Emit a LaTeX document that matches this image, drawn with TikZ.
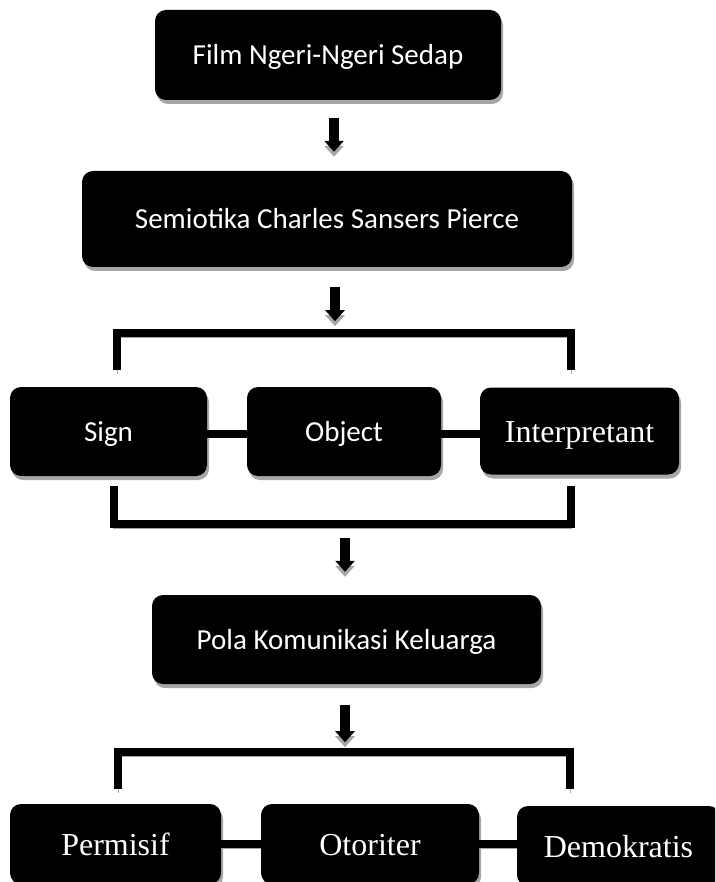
\documentclass[tikz,border=0pt]{standalone}
\usepackage{fontspec}
\setmainfont{Carlito}
\newfontfamily\serifface{Liberation Serif}
\usetikzlibrary{
  arrows.meta,
  shadows}

\begin{document}
\begin{tikzpicture}[x=1pt,y=-1pt,
  blok/.style={fill=black,text=white,rounded corners=11pt,inner sep=0pt,
    font=\fontsize{29}{34}\selectfont,text height=20pt,text depth=0pt,
    drop shadow={shadow xshift=2pt,shadow yshift=-4pt,fill=gray!70,opacity=1}},
  blokserif/.style={blok,font=\serifface\fontsize{32}{38}\selectfont,text height=22pt},
  link/.style={line width=8pt,line join=miter,
    preaction={draw=gray!70,transform canvas={yshift=-4pt}}},
  turun/.style={line width=10pt,-{Triangle[width=19pt,length=11pt]},
    preaction={draw=gray!70,transform canvas={yshift=-5pt}}}]
\clip (0,0) rectangle (715,882);

\node[blok,minimum width=346pt,minimum height=90pt] (film) at (328,55) {Film Ngeri-Ngeri Sedap};
\node[blok,minimum width=490pt,minimum height=96pt] (semiotika) at (327,219) {Semiotika Charles Sansers Pierce};
\node[blok,minimum width=197pt,minimum height=89pt] (sign) at (108.5,431.5) {Sign};
\node[blok,minimum width=194pt,minimum height=89pt] (object) at (344,431.5) {Object};
\node[blokserif,minimum width=199pt,minimum height=87pt] (interpretant) at (579.5,431) {Interpretant};
\node[blok,minimum width=389pt,minimum height=89pt] (pola) at (346.5,639.5) {Pola Komunikasi Keluarga};
\node[blokserif,minimum width=211pt,minimum height=80pt] (permisif) at (115.5,844) {Permisif};
\node[blokserif,minimum width=218pt,minimum height=80pt] (otoriter) at (370,844) {Otoriter};
\node[blokserif,minimum width=203pt,minimum height=80pt] (demokratis) at (618.5,846) {Demokratis};

% kurung
\coordinate (k1a) at (117,370);
\coordinate (k1b) at (571,370);
\coordinate (k2a) at (113.5,486);
\coordinate (k2b) at (571,486);
\coordinate (k3a) at (118,789);
\coordinate (k3b) at (570,789);
\draw[link] (k1a) -- ++(0,-37) -| (k1b);
\draw[link] (k2a) -- ++(0,38) -| (k2b);
\draw[link] (k3a) -- ++(0,-37) -| (k3b);

\draw[link] ([yshift=-2pt]sign.east) -- ([yshift=-2pt]object.west);
\draw[link] ([yshift=-2pt]object.east) -- ([yshift=-2pt]interpretant.west |- object.east);
\draw[link] (permisif.east) -- (otoriter.west);
\draw[link] (otoriter.east) -- (demokratis.west |- otoriter.east);

% panah
\coordinate (a1) at (334,0);
\coordinate (a2) at (335,0);
\coordinate (a3) at (345,538);
\coordinate (a4) at (345,0);
\draw[turun,shorten <=18pt,shorten >=19pt] (film.south -| a1) -- (semiotika.north -| a1);
\draw[turun,shorten <=20pt] (semiotika.south -| a2) -- ++(0,54);
\draw[turun,shorten >=23pt] (a3) -- (pola.north -| a3);
\draw[turun,shorten <=21pt] (pola.south -| a4) -- ++(0,58);
\end{tikzpicture}
\end{document}
